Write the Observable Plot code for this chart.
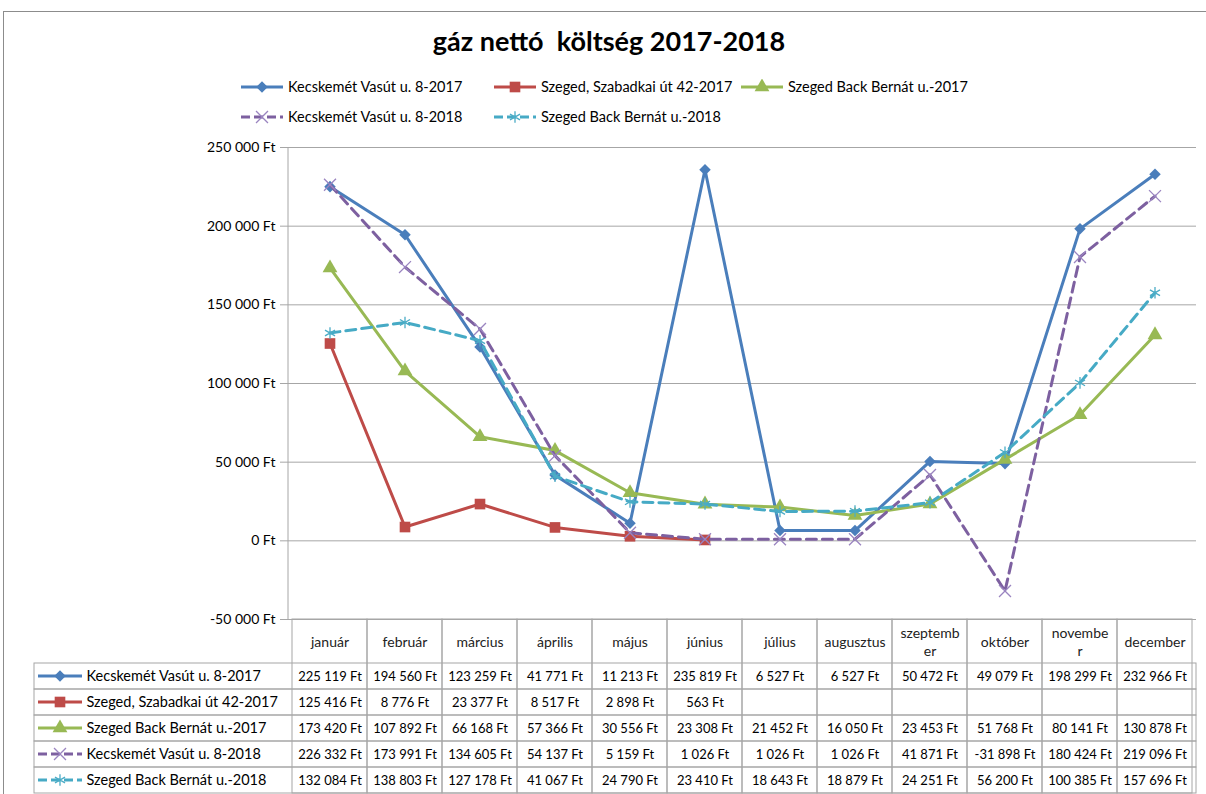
<!DOCTYPE html>
<html><head><meta charset="utf-8">
<script src="https://cdn.jsdelivr.net/npm/d3@7"></script>
<script src="https://cdn.jsdelivr.net/npm/@observablehq/plot@0.6"></script>
<style>
body{margin:0;background:#fff;font-family:Lato,"Open Sans",sans-serif;color:#000;}
#wrap{position:relative;width:1206px;height:794px;overflow:hidden;background:#fff;}
#frameline{position:absolute;left:3px;top:11px;width:1210px;height:800px;border-top:1.5px solid #8c8c8c;border-left:1.5px solid #8c8c8c;pointer-events:none;}
#header{position:relative;height:130px;}
#title{position:absolute;left:0;width:1218px;top:24px;text-align:center;font-weight:bold;font-size:27px;line-height:34px;}
.leg{position:absolute;display:flex;align-items:center;font-size:14.5px;white-space:nowrap;}
.leg svg{margin-right:4px;}
#chart svg,#table svg{display:block;}
</style></head>
<body><div id="wrap"><div id="frameline"></div>
<div id="header"><div id="title">gáz nettó&nbsp; költség 2017-2018</div><div id="legend"></div></div>
<div id="chart"></div><div id="table"></div></div>
<script>
const months = ["január","február","március","április","május","június","július","augusztus","szeptember","október","november","december"];
const monthLabels = ["január","február","március","április","május","június","július","augusztus","szeptemb\ner","október","novembe\nr","december"];
const seriesNames = ["Kecskemét Vasút u. 8-2017","Szeged, Szabadkai út 42-2017","Szeged Back Bernát u.-2017","Kecskemét Vasút u. 8-2018","Szeged Back Bernát u.-2018"];
const kecs2017 = [225119,194560,123259,41771,11213,235819,6527,6527,50472,49079,198299,232966];
const szab2017 = [125416,8776,23377,8517,2898,563,null,null,null,null,null,null];
const back2017 = [173420,107892,66168,57366,30556,23308,21452,16050,23453,51768,80141,130878];
const kecs2018 = [226332,173991,134605,54137,5159,1026,1026,1026,41871,-31898,180424,219096];
const back2018 = [132084,138803,127178,41067,24790,23410,18643,18879,24251,56200,100385,157696];
const yTicks = [-50000,0,50000,100000,150000,200000,250000];

const seriesValues = [kecs2017, szab2017, back2017, kecs2018, back2018];
const styles = [
  {color:"#4a7ebb", symbol:"diamond2", filled:true, r:5.2, dash:null},
  {color:"#be4b48", symbol:"square", filled:true, r:6, dash:null},
  {color:"#98b954", symbol:"triangle", filled:true, r:5.5, dash:null},
  {color:"#7d60a0", mcolor:"#9a84c0", symbol:"times", filled:false, r:5.5, dash:"10,6"},
  {color:"#46aac5", mcolor:"#4bacc6", symbol:"asterisk", filled:false, r:5.5, dash:"10,6"}
];

const loc = d3.formatLocale({decimal:",", thousands:"\u00a0", grouping:[3], currency:["",""], minus:"-"});
const fmtInt = loc.format(",d");
const fmt = v => fmtInt(v) + " Ft";

const rows = seriesNames.flatMap((s, si) => months.map((m, mi) => ({series: s, si, month: m, value: seriesValues[si][mi]})));

// legend (HTML)
const legendPos = [[240,78],[493,78],[740,78],[240,108],[493,108]];
const symMap = {diamond2:d3.symbolDiamond2, square:d3.symbolSquare, triangle:d3.symbolTriangle, times:d3.symbolTimes, asterisk:d3.symbolAsterisk};
function swatchSVG(st, w) {
  const sym = d3.symbol(symMap[st.symbol], Math.PI*st.r*st.r)();
  const mc = st.mcolor || st.color;
  return `<svg width="${w}" height="16"><line x1="1" x2="${w-1}" y1="8" y2="8" stroke="${st.color}" stroke-width="3" ${st.dash?'stroke-dasharray="9,4"':''}/>`+
    `<path transform="translate(${w/2},8)" d="${sym}" ${st.filled?`fill="${mc}"`:`fill="none" stroke="${mc}" stroke-width="1.3"`}/></svg>`;
}
const legend = document.getElementById("legend");
seriesNames.forEach((s,i)=>{
  const d = document.createElement("div");
  d.className = "leg";
  d.style.left = legendPos[i][0]+"px"; d.style.top = legendPos[i][1]+"px";
  d.innerHTML = swatchSVG(styles[i], 44) + `<span>${s}</span>`;
  legend.appendChild(d);
});

const gray = "#a6a6a6";
const leftLine = (index, scales, values, dims) => {
  const l = d3.create("svg:line").attr("x1", dims.marginLeft).attr("x2", dims.marginLeft)
    .attr("y1", dims.marginTop).attr("y2", dims.height - dims.marginBottom).attr("stroke", gray);
  return l.node();
};

const seriesMarks = seriesNames.flatMap((s, si) => {
  const st = styles[si];
  const data = rows.filter(d => d.si === si && d.value != null);
  const mc = st.mcolor || st.color;
  return [
    Plot.line(data, {x:"month", y:"value", stroke: st.color, strokeWidth: 3, strokeDasharray: st.dash, strokeLinejoin:"round"}),
    Plot.dot(data, {x:"month", y:"value", symbol: () => st.symbol, r: st.r,
      ...(st.filled ? {fill: mc, stroke: "none"} : {fill:"none", stroke: mc, strokeWidth: 1.3})})
  ];
});

const chart = Plot.plot({
  width: 1206, height: 489, marginTop: 17, marginBottom: 0, marginLeft: 288, marginRight: 10,
  style: {background: "transparent", overflow: "visible", fontFamily: "Lato, sans-serif", fontSize: "14px", color: "#000"},
  x: {type: "band", domain: months, padding: 0, axis: null},
  y: {domain: [-50000, 250000], axis: null},
  symbol: {type: "identity"},
  marks: [
    Plot.gridY(yTicks, {stroke: gray, strokeOpacity: 1, strokeWidth: 1}),
    Plot.axisY(yTicks, {tickSize: 8, tickPadding: 5, tickFormat: fmt, stroke: gray, fill: "#000", fontSize: 14, label: null}),
    leftLine,
    ...seriesMarks
  ]
});
document.getElementById("chart").appendChild(chart);

const swatchMark = (index, scales, values, dims) => {
  const y = scales.y;
  const bw = y.bandwidth ? y.bandwidth() : 26;
  const g = d3.create("svg:g");
  seriesNames.forEach((s, i) => {
    const st = styles[i];
    const cy = y(s) + bw/2;
    const mc = st.mcolor || st.color;
    g.append("line").attr("x1", 38).attr("x2", 82).attr("y1", cy).attr("y2", cy)
      .attr("stroke", st.color).attr("stroke-width", 3).attr("stroke-dasharray", st.dash ? "9,4" : null);
    const p = g.append("path").attr("transform", `translate(60,${cy})`)
      .attr("d", d3.symbol(symMap[st.symbol], Math.PI*st.r*st.r)());
    if (st.filled) p.attr("fill", mc); else p.attr("fill", "none").attr("stroke", mc).attr("stroke-width", 1.3);
  });
  return g.node();
};

const table = Plot.plot({
  width: 1206, height: 175, marginTop: 44, marginBottom: 1, marginLeft: 288, marginRight: 10,
  style: {background: "transparent", overflow: "visible", fontFamily: "Lato, sans-serif", fontSize: "13px", color: "#000"},
  x: {type: "band", domain: months, padding: 0, axis: null},
  y: {type: "band", domain: seriesNames, padding: 0, axis: null},
  marks: [
    Plot.cell(months, {x: d => d, insetTop: -44, fill: "none", stroke: gray}),
    Plot.cell(seriesNames, {y: d => d, insetLeft: -254, fill: "none", stroke: gray}),
    Plot.text(months, {x: d => d, text: (d, i) => monthLabels[i], frameAnchor: "top", dy: -22, lineAnchor: "middle", lineHeight: 1.3, fontSize: 14, fill: "#222"}),
    Plot.text(rows.filter(d => d.value != null), {x: "month", y: "series", text: d => fmt(d.value), fontSize: 13, fill: "#000"}),
    Plot.text(seriesNames, {y: d => d, text: d => d, frameAnchor: "left", dx: -202, textAnchor: "start", fontSize: 14.5, fill: "#000"}),
    swatchMark
  ]
});
document.getElementById("table").appendChild(table);
</script></body></html>
